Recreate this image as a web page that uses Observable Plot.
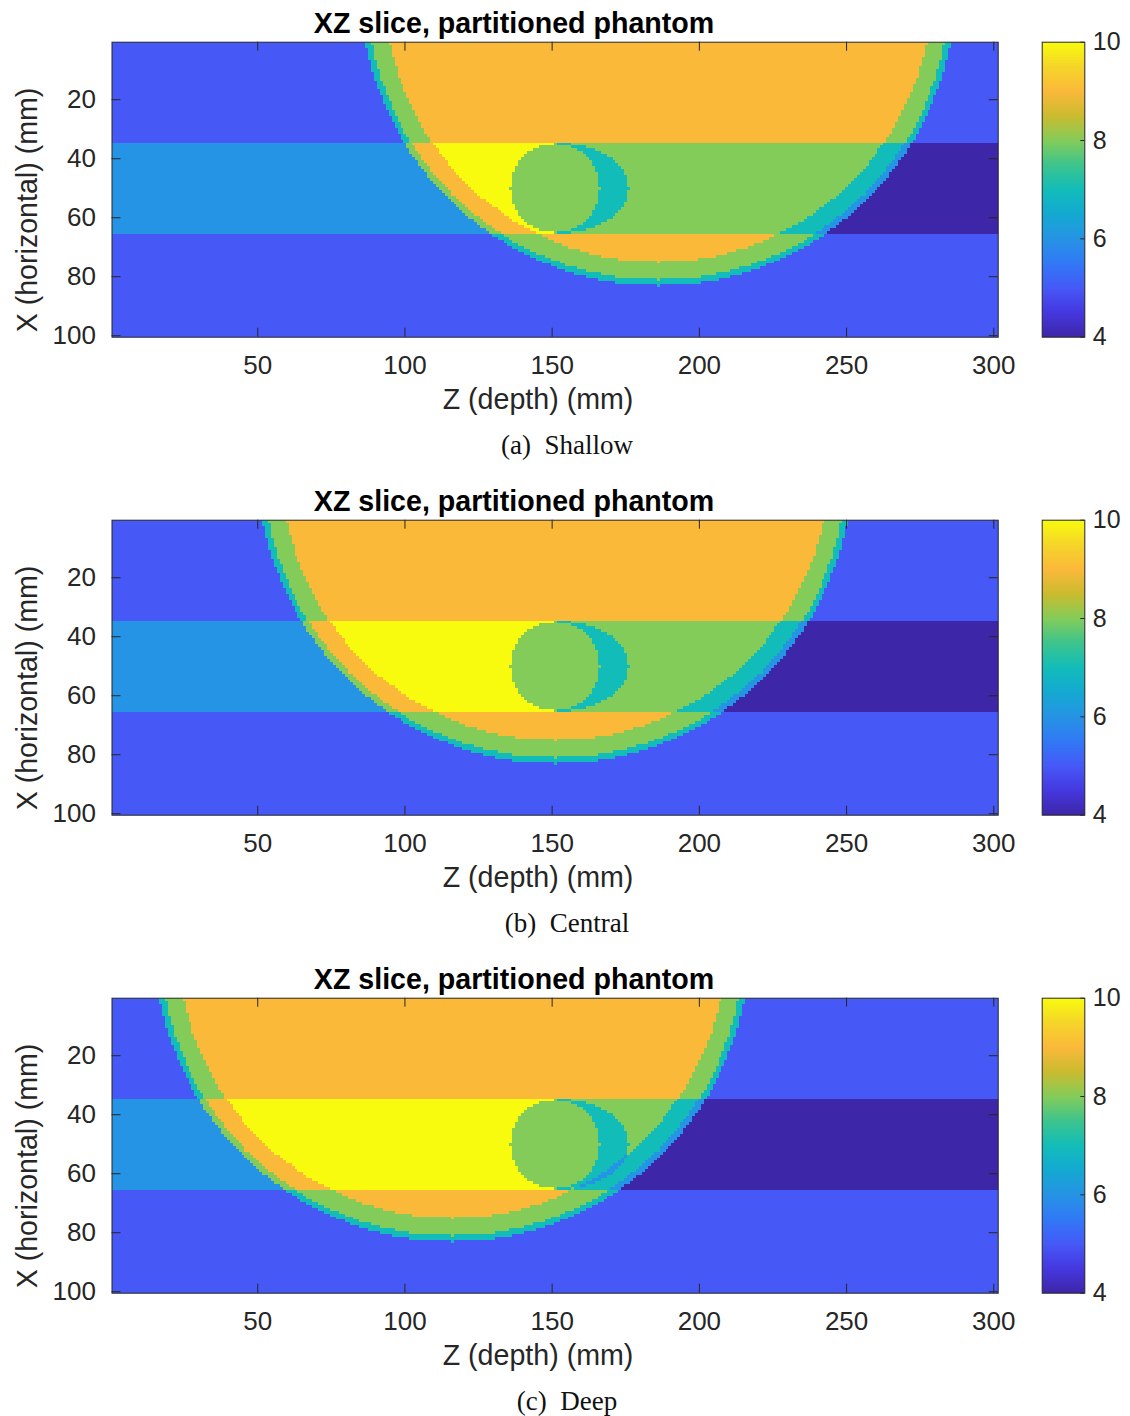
<!DOCTYPE html>
<html>
<head>
<meta charset="utf-8">
<script src="https://cdn.jsdelivr.net/npm/d3@7"></script>
<script src="https://cdn.jsdelivr.net/npm/@observablehq/plot@0.6"></script>
<style>
  body { margin: 0; background: #fff; }
  #root { position: relative; width: 1130px; height: 1416px; overflow: hidden; background: #fff;
          font-family: "Liberation Sans", Arial, Helvetica, sans-serif; color: #262626; }
  .abs { position: absolute; white-space: nowrap; line-height: 1; }
  .title { font-weight: bold; font-size: 28.6px; color: #000; transform: translateX(-50%); }
  .xlab { font-size: 28.6px; transform: translateX(-50%); }
  .ylab { font-size: 28.6px; transform: translate(-50%, -50%) rotate(-90deg); }
  .cap { font-family: "Liberation Serif", "DejaVu Serif", serif; font-size: 27px; color: #111; transform: translateX(-50%); }
</style>
</head>
<body>
<div id="root"></div>
<script>
// ---------------- data ----------------
const panelCaptions = ["(a)\u00a0 Shallow", "(b)\u00a0 Central", "(c)\u00a0 Deep"];
const titleText = "XZ slice, partitioned phantom";
const xLabelText = "Z (depth) (mm)";
const yLabelText = "X (horizontal) (mm)";

// big (semi-)circular body: center depth per panel, center height, layer radii and values
const bodyCenterZ = [186, 151, 116];
const bodyCenterX = -18;
const bodyLayerRadii = [93, 99, 101];
const bodyLayerValues = [9, 8, 7];
const backgroundValue = 5;

// horizontal band: rows, split depth, offsets left / right of split
const bandRows = [35, 65];
const bandSplitZ = 150.5;
const bandOffsets = [1, -1];

// elliptical shadow right of the lesion (semi-axes x, z) and its offset
const shadowCenter = [50, 151];
const shadowSemiAxes = [15.4, 25];
const shadowOffset = -1;

// lesion disc
const lesionCenter = [50, 151];
const lesionRadius = 15;
const lesionValue = 8;

// grid and axes
const gridZ = [1, 301];
const gridX = [1, 100];
const zTicks = [50, 100, 150, 200, 250, 300];
const xTicks = [20, 40, 60, 80, 100];
const colorTicks = [4, 6, 8, 10];
const colorDomain = [4, 10];
const parulaStops = ["#3e26a8", "#4538e0", "#4659f7", "#3179f6", "#2694e4", "#14a9d2",
                     "#12bdb9", "#3dc48e", "#84cc5a", "#cbbb2f", "#fbb93a", "#f5d629", "#f9fb0e"];

// ---------------- helpers ----------------
const parulaI = d3.piecewise(d3.interpolateRgb, parulaStops);
const parula = t => parulaI(Math.max(0, Math.min(1, t)));
const colorScale = {type: "linear", domain: colorDomain, interpolate: t => parula(t)};

function phantomValue(x, z, zc) {
  const d = Math.hypot(x - bodyCenterX, z - zc);
  let v = backgroundValue;
  for (let i = bodyLayerRadii.length - 1; i >= 0; --i) if (d <= bodyLayerRadii[i]) v = bodyLayerValues[i];
  if (x >= bandRows[0] && x <= bandRows[1]) {
    const right = z > bandSplitZ;
    v += right ? bandOffsets[1] : bandOffsets[0];
    const ex = (x - shadowCenter[0]) / shadowSemiAxes[0], ez = (z - shadowCenter[1]) / shadowSemiAxes[1];
    if (right && ex * ex + ez * ez <= 1) v += shadowOffset;
  }
  if (Math.hypot(x - lesionCenter[0], z - lesionCenter[1]) <= lesionRadius) v = lesionValue;
  return Math.max(colorDomain[0], Math.min(colorDomain[1], v));
}

const root = document.getElementById("root");
function place(el, left, top) {
  const d = document.createElement("div");
  d.style.position = "absolute"; d.style.left = left + "px"; d.style.top = top + "px";
  d.appendChild(el); root.appendChild(d);
}
function label(text, cls, left, top) {
  const d = document.createElement("div");
  d.className = "abs " + cls; d.textContent = text;
  d.style.left = left + "px"; d.style.top = top + "px";
  root.appendChild(d);
}

const W = 1010, H = 420, mL = 111.5, mR = 12.3, mT = 41.7, mB = 83.3;
const iw = W - mL - mR, ih = H - mT - mB;
const CW = 130, cL = 41.7, cR = 45.7, cH = 356.7, cB = 20;
const cbw = CW - cL - cR;
const panelStep = 478;
const axisStyle = {fontFamily: "'Liberation Sans', Arial, Helvetica, sans-serif", color: "#262626", background: "transparent", overflow: "visible"};

bodyCenterZ.forEach((zc, k) => {
  const T = k * panelStep;
  const cells = [];
  for (let x = gridX[0]; x <= gridX[1]; ++x)
    for (let z = gridZ[0]; z <= gridZ[1]; ++z)
      cells.push({x, z, v: phantomValue(x, z, zc)});

  const main = Plot.plot({
    width: W, height: H, marginLeft: mL, marginRight: mR, marginTop: mT, marginBottom: mB,
    style: axisStyle,
    x: {domain: [gridZ[0] - 0.5, gridZ[1] + 0.5]},
    y: {domain: [gridX[0] - 0.5, gridX[1] + 0.5], reverse: true},
    color: colorScale,
    marks: [
      Plot.raster(cells, {x: "z", y: "x", fill: "v",
        x1: gridZ[0] - 0.5, x2: gridZ[1] + 0.5, y1: gridX[0] - 0.5, y2: gridX[1] + 0.5,
        width: gridZ[1] - gridZ[0] + 1, height: gridX[1] - gridX[0] + 1, imageRendering: "pixelated"}),
      Plot.tickX(zTicks, {x: d => d, insetBottom: ih - 9, stroke: "#262626"}),
      Plot.tickX(zTicks, {x: d => d, insetTop: ih - 9, stroke: "#262626"}),
      Plot.tickY(xTicks, {y: d => d, insetRight: iw - 9, stroke: "#262626"}),
      Plot.tickY(xTicks, {y: d => d, insetLeft: iw - 9, stroke: "#262626"}),
      Plot.frame({stroke: "#262626"}),
      Plot.axisX({ticks: zTicks, tickFormat: "d", tickSize: 0, tickPadding: 18, fontSize: 26, label: null}),
      Plot.axisY({ticks: xTicks, tickFormat: "d", tickSize: 0, tickPadding: 16, fontSize: 26, label: null})
    ]
  });
  place(main, 0, T);

  const bar = Plot.plot({
    width: CW, height: cH, marginLeft: cL, marginRight: cR, marginTop: mT, marginBottom: cB,
    style: axisStyle,
    x: {domain: [0, 1], axis: null},
    y: {domain: colorDomain},
    color: colorScale,
    marks: [
      Plot.raster({fill: (x, y) => y, x1: 0, x2: 1, y1: colorDomain[0], y2: colorDomain[1], width: 2, height: 300}),
      Plot.tickY(colorTicks, {y: d => d, insetLeft: cbw - 4, stroke: "#262626"}),
      Plot.frame({stroke: "#262626"}),
      Plot.axisY({anchor: "right", ticks: colorTicks, tickFormat: "d", tickSize: 0, tickPadding: 8, fontSize: 25, label: null})
    ]
  });
  place(bar, 1000, T);

  label(titleText, "title", 514, T + 9);
  label(xLabelText, "xlab", 538, T + 385);
  label(yLabelText, "ylab", 27, T + 210);
  label(panelCaptions[k], "cap", 567, T + 432);
});
</script>
</body>
</html>
